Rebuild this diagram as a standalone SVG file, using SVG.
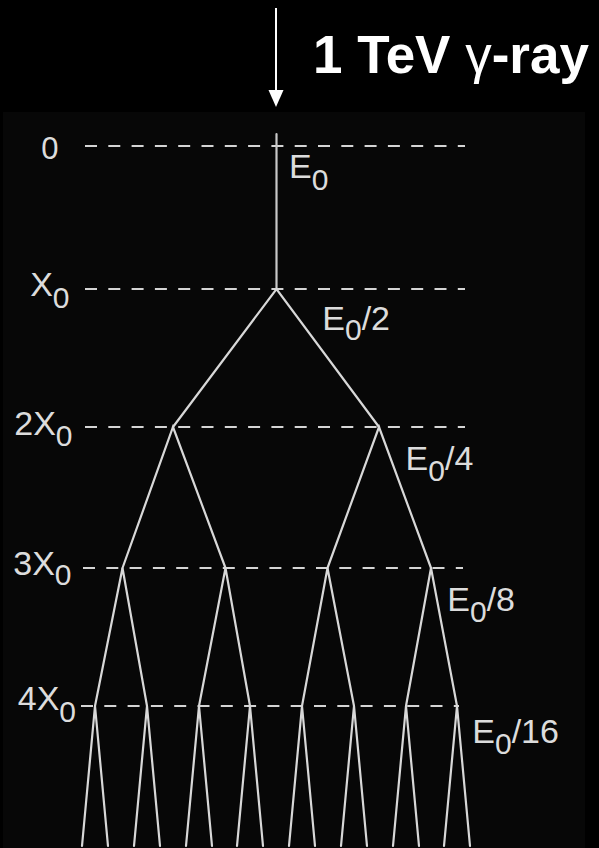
<svg xmlns="http://www.w3.org/2000/svg" width="599" height="848" viewBox="0 0 599 848">
  <style>
    .lvl { stroke: #d4d4d4; stroke-width: 2; stroke-dasharray: 12 11.3; fill: none; }
    .br { stroke: #d8d8d8; stroke-width: 2.2; fill: none; stroke-linecap: round; }
    .lab { font-family: "Liberation Sans", Arial, sans-serif; font-size: 34px; fill: #dcdcdc; }
    .sub { font-size: 30px; }
    .title { font-family: "Liberation Sans", Arial, sans-serif; font-size: 53px; font-weight: bold; fill: #ffffff; }
  </style>
  <rect x="0" y="0" width="599" height="848" fill="#000000"/>
  <rect x="3" y="112" width="582" height="736" fill="#070707"/>

  <g id="incoming">
    <line x1="276" y1="8" x2="276" y2="92" stroke="#ffffff" stroke-width="2"/>
    <polygon points="268.5,90 283.5,90 276,107" fill="#ffffff"/>
    <text class="title" x="313" y="73">1 TeV <tspan font-weight="normal">γ</tspan>-ray</text>
  </g>

  <g id="levels">
    <line class="lvl" x1="85" y1="146" x2="465" y2="146"/>
    <line class="lvl" x1="85" y1="289" x2="465" y2="289"/>
    <line class="lvl" x1="85" y1="427" x2="465" y2="427"/>
    <line class="lvl" x1="83" y1="568" x2="463" y2="568"/>
    <line class="lvl" x1="81" y1="706" x2="459" y2="706"/>
  </g>

  <g id="depth-labels" class="lab" text-anchor="end">
    <text x="58.5" y="159" font-size="31">0</text>
    <text x="69.5" y="296">X<tspan class="sub" dy="12">0</tspan></text>
    <text x="72.5" y="435">2X<tspan class="sub" dy="11">0</tspan></text>
    <text x="71.5" y="575">3X<tspan class="sub" dy="10">0</tspan></text>
    <text x="76" y="710">4X<tspan class="sub" dy="12">0</tspan></text>
  </g>

  <g id="energy-labels" class="lab">
    <text x="289" y="178">E<tspan class="sub" dy="12">0</tspan></text>
    <text x="322.3" y="330">E<tspan class="sub" dy="10">0</tspan><tspan dy="-10">/2</tspan></text>
    <text x="405.6" y="470">E<tspan class="sub" dy="11">0</tspan><tspan dy="-11">/4</tspan></text>
    <text x="447.3" y="611">E<tspan class="sub" dy="11">0</tspan><tspan dy="-11">/8</tspan></text>
    <text x="472.3" y="743">E<tspan class="sub" dy="11">0</tspan><tspan dy="-11">/16</tspan></text>
  </g>

  <g id="connectors" class="br">
    <line x1="276.5" y1="134" x2="276.5" y2="289" stroke="#c8c8c8"/>
    <path d="M173,427 L276.5,289 L379,427"/>
    <path d="M122.5,568 L173,427 L225.5,568"/>
    <path d="M327.5,568 L379,427 L431,568"/>
    <path d="M95,706 L122.5,568 L147,706"/>
    <path d="M199,706 L225.5,568 L250,706"/>
    <path d="M302,706 L327.5,568 L354,706"/>
    <path d="M406,706 L431,568 L457,706"/>
    <path d="M82,846 L95,706 L108,846"/>
    <path d="M134,846 L147,706 L160,846"/>
    <path d="M186,846 L199,706 L212,846"/>
    <path d="M237,846 L250,706 L263,846"/>
    <path d="M289,846 L302,706 L315,846"/>
    <path d="M341,846 L354,706 L367,846"/>
    <path d="M393,846 L406,706 L419,846"/>
    <path d="M444,846 L457,706 L470,846"/>
  </g>
</svg>
